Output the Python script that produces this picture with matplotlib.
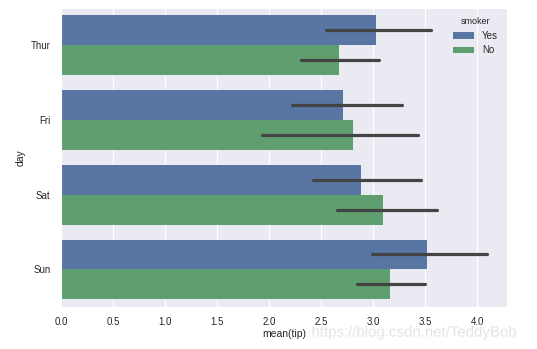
import numpy as np
import matplotlib
matplotlib.use("Agg")
import matplotlib.pyplot as plt
import matplotlib.patheffects as pe
import seaborn as sns

days = ["Thur", "Fri", "Sat", "Sun"]
smoker = ["Yes", "No"]
mean_yes = [3.03, 2.71, 2.88, 3.52]
mean_no = [2.67, 2.81, 3.10, 3.16]
ci_yes_lo = [2.55, 2.22, 2.42, 2.99]
ci_yes_hi = [3.56, 3.28, 3.46, 4.10]
ci_no_lo = [2.31, 1.93, 2.65, 2.85]
ci_no_hi = [3.06, 3.43, 3.61, 3.50]

sns.set_style("darkgrid")
plt.rcParams['font.family'] = ['Liberation Sans', 'DejaVu Sans']

fig = plt.figure(figsize=(5.37, 3.49), dpi=100)
ax = fig.add_axes([0.1136, 0.121, 0.83, 0.856])

colors = ["#5875A4", "#5F9E6E"]
y = np.arange(len(days))
h = 0.4
series = [(mean_yes, ci_yes_lo, ci_yes_hi), (mean_no, ci_no_lo, ci_no_hi)]
for i, (m, lo, hi) in enumerate(series):
    pos = y - h / 2 + i * h
    ax.barh(pos, m, height=h, color=colors[i], label=smoker[i],
            linewidth=0, zorder=2)
    for p, a, b in zip(pos, lo, hi):
        ax.plot([a, b], [p, p], color="#444444", lw=2.3,
                solid_capstyle="round", zorder=3)

ax.set_yticks(y)
ax.set_yticklabels(days)
ax.set_ylim(3.5, -0.5)
ax.set_xlim(0, 4.285)
ax.set_xticks(np.arange(0, 4.01, 0.5))
ax.tick_params(labelsize=7, colors="#262626", pad=4)
ax.set_xlabel("mean(tip)", fontsize=7.5, color="#262626", labelpad=1)
ax.set_ylabel("day", fontsize=7.5, color="#262626")
ax.grid(axis="y", visible=False)

leg = ax.legend(title="smoker", loc="upper right", frameon=False,
                fontsize=7, title_fontsize=6.5, handlelength=2.2)

fig.text(0.58, 0.047, "https://blog.csdn.net/TeddyBob", fontsize=10.8,
         color="#e4e4e4", ha="left", va="center",
         path_effects=[pe.withStroke(linewidth=1.5, foreground="white")])

fig.savefig("out.png", dpi=100)
